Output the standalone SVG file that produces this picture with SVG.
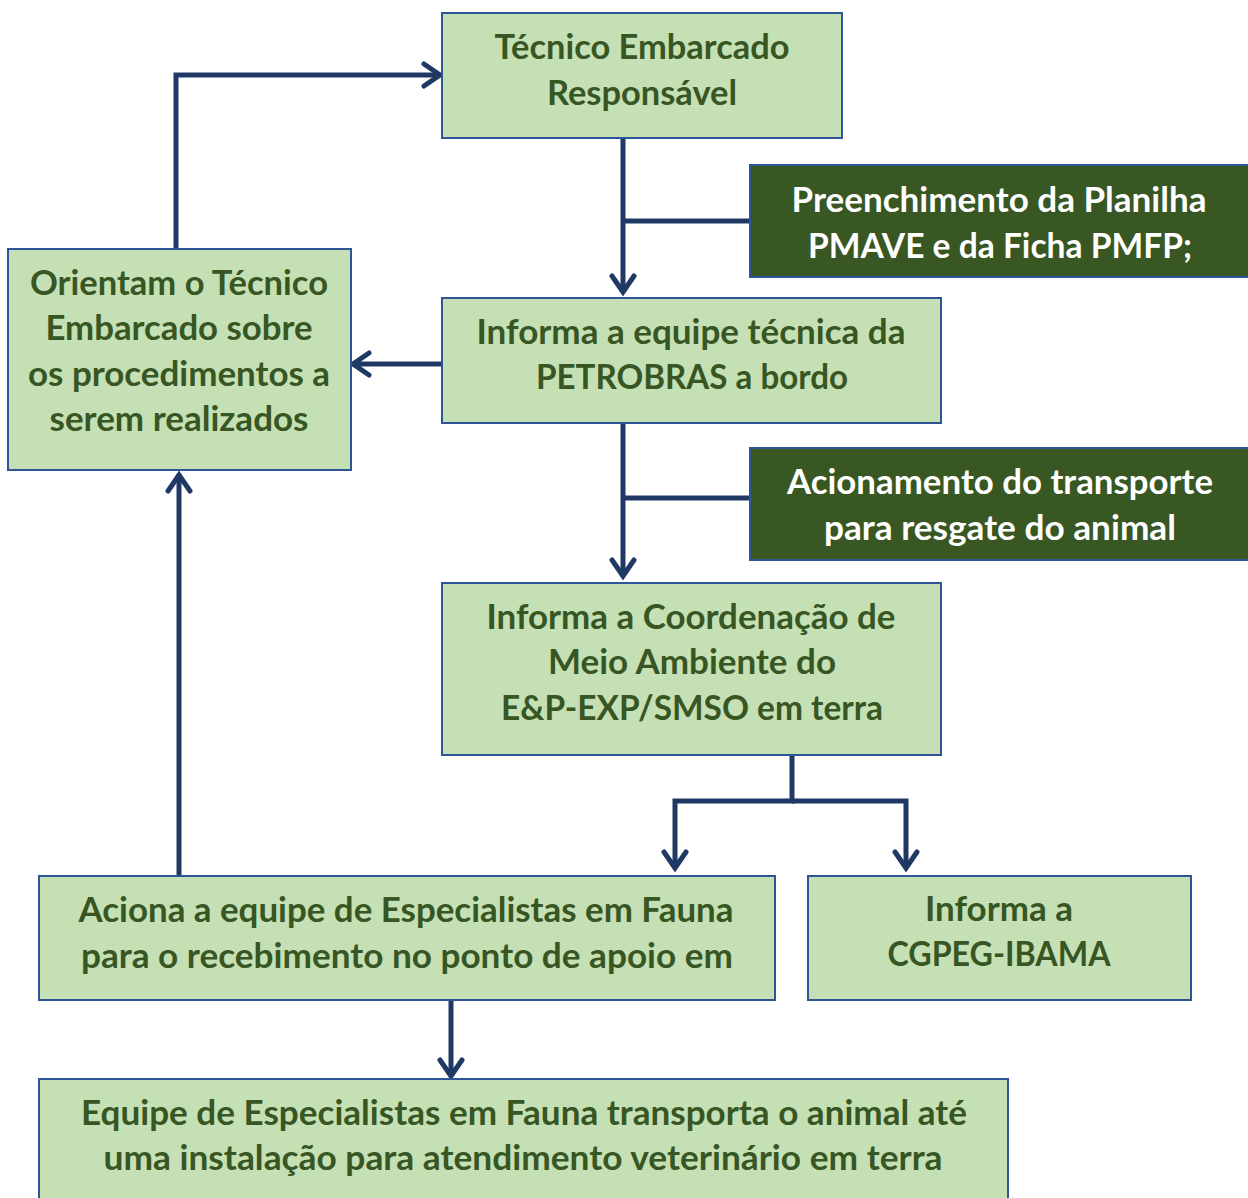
<svg xmlns="http://www.w3.org/2000/svg" width="1248" height="1198" viewBox="0 0 1248 1198">
<defs>
<style>
.box{fill:#C5E0B4;stroke:#2F5597;stroke-width:2}
.dark{fill:#385723;stroke:#2F5597;stroke-width:2}
.t{font-family:Lato,"Open Sans","Liberation Sans",sans-serif;font-weight:bold;font-size:34px;fill:#375623;text-anchor:middle}
.w{fill:#FFFFFF}
.c{fill:none;stroke:#1F3864;stroke-width:5}
.a{fill:none;stroke:#1F3864;stroke-width:5;stroke-linecap:round}
</style>
</defs>
<rect width="1248" height="1198" fill="#FFFFFF"/>
<g id="connectors">
<path class="c" d="M623,138 V291"/>
<path class="c" d="M750,221 H623"/>
<path class="c" d="M623,423 V575"/>
<path class="c" d="M750,498 H623"/>
<path class="c" d="M442,364 H354"/>
<path class="c" d="M176,249 V75 H439"/>
<path class="c" d="M179,876 V474"/>
<path class="c" d="M792,755 V801 H675 V868"/>
<path class="c" d="M792,801 H906 V868"/>
<path class="c" d="M451,1000 V1075"/>
<path class="a" d="M612,276 L623,292 L634,276"/>
<path class="a" d="M612,560 L623,576 L634,560"/>
<path class="a" d="M369,353 L353,364 L369,375"/>
<path class="a" d="M424,64 L440,75 L424,86"/>
<path class="a" d="M168,491 L179,475 L190,491"/>
<path class="a" d="M664,852 L675,868 L686,852"/>
<path class="a" d="M895,852 L906,868 L917,852"/>
<path class="a" d="M440,1060 L451,1076 L462,1060"/>
</g>
<g id="n1"><rect class="box" x="442" y="13" width="400" height="125"/>
<text class="t" x="642" y="59" textLength="295" lengthAdjust="spacingAndGlyphs">Técnico Embarcado</text>
<text class="t" x="642" y="105" textLength="190" lengthAdjust="spacingAndGlyphs">Responsável</text></g>
<g id="d1"><rect class="dark" x="750" y="165" width="500" height="112"/>
<text class="t w" x="999" y="212" textLength="415" lengthAdjust="spacingAndGlyphs">Preenchimento da Planilha</text>
<text class="t w" x="1000" y="258" textLength="384" lengthAdjust="spacingAndGlyphs">PMAVE e da Ficha PMFP;</text></g>
<g id="n2"><rect class="box" x="442" y="298" width="499" height="125"/>
<text class="t" x="691" y="344" textLength="429" lengthAdjust="spacingAndGlyphs">Informa a equipe técnica da</text>
<text class="t" x="692" y="389" textLength="312" lengthAdjust="spacingAndGlyphs">PETROBRAS a bordo</text></g>
<g id="n3"><rect class="box" x="8" y="249" width="343" height="221"/>
<text class="t" x="179" y="295" textLength="298" lengthAdjust="spacingAndGlyphs">Orientam o Técnico</text>
<text class="t" x="179" y="340" textLength="267" lengthAdjust="spacingAndGlyphs">Embarcado sobre</text>
<text class="t" x="179" y="386" textLength="302" lengthAdjust="spacingAndGlyphs">os procedimentos a</text>
<text class="t" x="179" y="431" textLength="259" lengthAdjust="spacingAndGlyphs">serem realizados</text></g>
<g id="d2"><rect class="dark" x="750" y="448" width="500" height="112"/>
<text class="t w" x="1000" y="494" textLength="426" lengthAdjust="spacingAndGlyphs">Acionamento do transporte</text>
<text class="t w" x="1000" y="540" textLength="352" lengthAdjust="spacingAndGlyphs">para resgate do animal</text></g>
<g id="n4"><rect class="box" x="442" y="583" width="499" height="172"/>
<text class="t" x="691" y="629" textLength="409" lengthAdjust="spacingAndGlyphs">Informa a Coordenação de</text>
<text class="t" x="692" y="674" textLength="288" lengthAdjust="spacingAndGlyphs">Meio Ambiente do</text>
<text class="t" x="692" y="720" textLength="382" lengthAdjust="spacingAndGlyphs">E&amp;P-EXP/SMSO em terra</text></g>
<g id="n5"><rect class="box" x="39" y="876" width="736" height="124"/>
<text class="t" x="406" y="922" textLength="655" lengthAdjust="spacingAndGlyphs">Aciona a equipe de Especialistas em Fauna</text>
<text class="t" x="407" y="968" textLength="652" lengthAdjust="spacingAndGlyphs">para o recebimento no ponto de apoio em</text></g>
<g id="n6"><rect class="box" x="808" y="876" width="383" height="124"/>
<text class="t" x="999" y="921" textLength="148" lengthAdjust="spacingAndGlyphs">Informa a</text>
<text class="t" x="999" y="966" textLength="223" lengthAdjust="spacingAndGlyphs">CGPEG-IBAMA</text></g>
<g id="n7"><rect class="box" x="39" y="1079" width="969" height="130"/>
<text class="t" x="524" y="1125" textLength="886" lengthAdjust="spacingAndGlyphs">Equipe de Especialistas em Fauna transporta o animal até</text>
<text class="t" x="523" y="1170" textLength="839" lengthAdjust="spacingAndGlyphs">uma instalação para atendimento veterinário em terra</text></g>
</svg>
